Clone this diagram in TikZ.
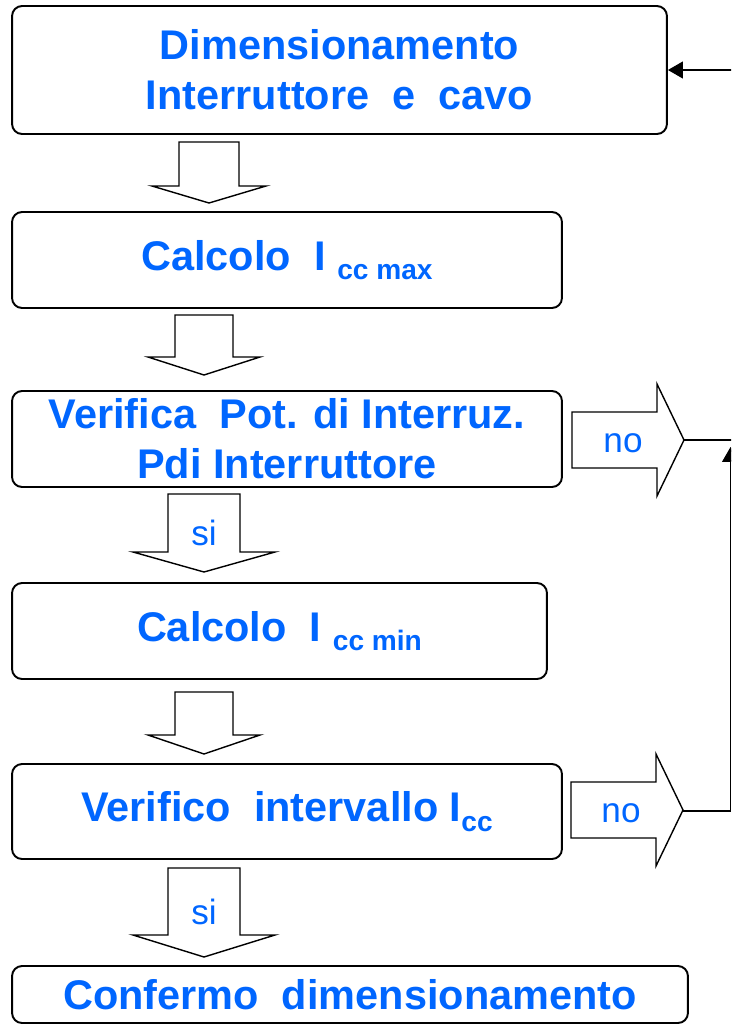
\documentclass[tikz,border=0pt]{standalone}
\usepackage{fontspec}
\setmainfont{Liberation Sans}
\usepackage{xcolor}
\usetikzlibrary{arrows.meta,positioning,calc}
\definecolor{flowblue}{RGB}{0,102,255}
\newcommand{\ccsub}[1]{\raisebox{-5.5pt}{\fontsize{16}{16}\selectfont #1}}
\newcommand{\downblock}[6]{\draw[blockarr] (#1-#5,#2) -- (#1+#5,#2) -- (#1+#5,#3) -- (#1+#6,#3) -- (#1,#4) -- (#1-#6,#3) -- (#1-#5,#3) -- cycle;}
\newcommand{\rightblock}[6]{\draw[blockarr] (#1,#2-#5) -- (#3,#2-#5) -- (#3,#2-#6) -- (#4,#2) -- (#3,#2+#6) -- (#3,#2+#5) -- (#1,#2+#5) -- cycle;}

\begin{document}
\begin{tikzpicture}[x=0.02cm, y=-0.02cm,
    stepbox/.style={rectangle, rounded corners=0.2cm, draw=black, line width=1.1pt,
                    inner sep=0pt, align=center, text=flowblue,
                    font=\fontsize{23.6}{28.5}\selectfont\bfseries},
    blockarr/.style={draw=black, line width=0.8pt, fill=white, line join=miter},
    tag/.style={text=flowblue, inner sep=0pt, font=\fontsize{20}{24}\selectfont},
    link/.style={line width=1pt},
    arrow/.style={-{Triangle[length=8.5pt, width=9.5pt]}}
]
\clip (0,0) rectangle (731,1025);

% steps
\node[stepbox, minimum width=13.1cm, minimum height=2.56cm] (dim) at (339.5,70)
     {Dimensionamento\\Interruttore~~e~~cavo};
\node[stepbox, minimum width=11cm, minimum height=1.92cm] (cmax) at (287,260)
     {Calcolo~~I~\ccsub{cc max}};
\node[stepbox, minimum width=11cm, minimum height=1.92cm] (pdi) at (287,439)
     {Verifica~~Pot. di Interruz.\\Pdi Interruttore};
\node[stepbox, minimum width=10.7cm, minimum height=1.92cm] (cmin) at (279.5,631)
     {Calcolo~~I~\ccsub{cc min}};
\node[stepbox, minimum width=11cm, minimum height=1.9cm] (vint) at (287,811.5)
     {Verifico~~intervallo I\ccsub{cc}};
\node[stepbox, minimum width=13.52cm, minimum height=1.14cm] (conf) at (350,994.5)
     {Confermo~~dimensionamento};

% block arrows
\downblock{209}{142}{186}{203}{30}{57}
\downblock{204}{315}{357}{375}{29}{56}
\downblock{204}{494}{552}{572}{36}{71}
\downblock{204}{692}{735}{754}{29}{56}
\downblock{204}{868}{935}{957}{36}{71}
\rightblock{572}{440}{657}{684}{28}{56}
\rightblock{571}{810}{656}{683}{28}{56}

\node[tag] (si1) at (204,533) {si};
\node[tag] (si2) at (204,912) {si};
\node[tag] (no1) at (623,443) {no};
\node[tag] (no2) at (621,813) {no};

% feedback
\coordinate (t1) at (684,440);
\coordinate (e1) at (740,440);
\coordinate (t2) at (683,811);
\coordinate (rc) at (730.5,811);
\coordinate (rtop) at (730.5,447);
\coordinate (fb) at (740,70);
\draw[link] (t1) -- (e1);
\draw[link, arrow] (t2) -- (rc) -- (rtop);
\draw[link, arrow] (fb) -- (dim.east);
\end{tikzpicture}
\end{document}
